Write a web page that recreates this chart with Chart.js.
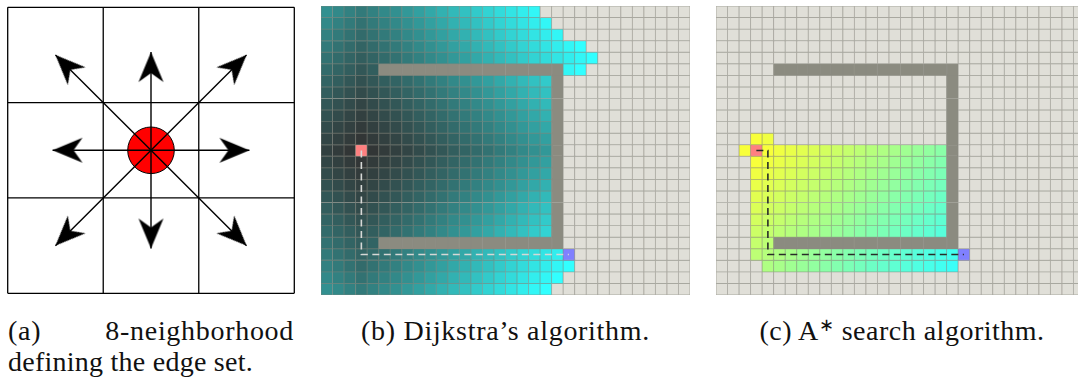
<!DOCTYPE html>
<html>
<head>
<meta charset="utf-8">
<script src="https://cdn.jsdelivr.net/npm/chart.js@4.4.1/dist/chart.umd.min.js"></script>
<style>
  html, body { margin: 0; padding: 0; background: #fff; overflow: hidden; width: 1078px; height: 381px; }
  canvas { position: absolute; }
  .cap { position: absolute; font-family: "Liberation Serif", "Times New Roman", serif; font-size: 28px;
         color: #111; white-space: nowrap; line-height: 28px; letter-spacing: 0.7px; }
  .cap sup { font-size: 18px; vertical-align: 9px; line-height: 0; }
</style>
</head>
<body>
<canvas id="nbr" width="302" height="301" style="left:0px;top:0px"></canvas>
<canvas id="dij" width="369" height="289" style="left:321px;top:6px"></canvas>
<canvas id="astar" width="369" height="289" style="left:716px;top:6px"></canvas>

<div class="cap" style="left:8px;top:317px;width:286px;display:flex;justify-content:space-between"><span>(a)</span><span>8-neighborhood</span></div>
<div class="cap" style="left:8px;top:348px;letter-spacing:0.25px">defining the edge set.</div>
<div class="cap" style="left:321px;top:317px;width:369px;text-align:center">(b) Dijkstra’s algorithm.</div>
<div class="cap" style="left:716px;top:317px;width:372px;text-align:center;letter-spacing:0.5px">(c) A<sup>∗</sup> search algorithm.</div>

<script>
// ---------- (a) 8-neighbourhood ----------
// arrow tips relative to the centre cell, in cell units
const arrowTipX = [1.03, 1, 0, -1, -1.03, -1, 0, 1];
const arrowTipY = [0, 1, 1.03, 1, 0, -1, -1.03, -1];
// cell boundaries of the 3x3 neighbourhood
const cellBounds = [-1.5, -0.5, 0.5, 1.5];

// ---------- (b)/(c) search grids ----------
// '.' unvisited, '#' obstacle, 'S' start, 'G' goal,
// otherwise the cost-to-come of a visited cell as a base-36 digit
const dijkstraRows = [
  "fedcdefghijklmnopqr.............",
  "edcbcdefghijklmnopqr............",
  "dcbabcdefghijklmnopqr...........",
  "cba9abcdefghijklmnopqrs.........",
  "ba989abcdefghijklmnopqrs........",
  "a9878################rs.........",
  "9876789abcdefghijklm#...........",
  "87656789abcdefghijkl#...........",
  "765456789abcdefghijk#...........",
  "6543456789abcdefghij#...........",
  "54323456789abcdefghi#...........",
  "432123456789abcdefgh#...........",
  "321S123456789abcdefg#...........",
  "432123456789abcdefgh#...........",
  "54323456789abcdefghi#...........",
  "6543456789abcdefghij#...........",
  "765456789abcdefghijk#...........",
  "87656789abcdefghijkl#...........",
  "9876789abcdefghijklm#...........",
  "a98789abcdefghijklmn#...........",
  "ba989################...........",
  "cba9abcdefghijklmnopqG..........",
  "dcbabcdefghijklmnopqrs..........",
  "edcbcdefghijklmnopqrs...........",
  "fedcdefghijklmnopqrs............"
];
const astarRows = [
  "................................",
  "................................",
  "................................",
  "................................",
  "................................",
  ".....################...........",
  "....................#...........",
  "....................#...........",
  "....................#...........",
  "....................#...........",
  "....................#...........",
  "...12...............#...........",
  "..1S123456789abcdefg#...........",
  "...123456789abcdefgh#...........",
  "...23456789abcdefghi#...........",
  "...3456789abcdefghij#...........",
  "...456789abcdefghijk#...........",
  "...56789abcdefghijkl#...........",
  "...6789abcdefghijklm#...........",
  "...789abcdefghijklmn#...........",
  "...89################...........",
  "...9abcdefghijklmnopqG..........",
  "....bcdefghijklmnopqr...........",
  "................................",
  "................................"
];
// resulting paths, as cell (column,row) corners
const dijkstraPathCols = [3, 3, 21];
const dijkstraPathRows = [12, 21, 21];
const astarPathCols = [3, 4, 4, 21];
const astarPathRows = [12, 12, 21, 21];

// ---------- colours ----------
const FREE = [224, 223, 216], WALL = [139, 139, 128], START = [255, 128, 128], GOAL = [128, 128, 255];
const LINE = [132, 132, 122];
const MAX_COST = 28;
const rgb = c => `rgb(${c.map(v => Math.round(v)).join(',')})`;
const mix = (a, b, t) => a.map((v, i) => v + (b[i] - v) * t);
const dijkstraRamp = g => { const t = Math.pow(Math.min(g / MAX_COST, 1), 1.25); return [50, 51 + 204 * t, 51 + 204 * t]; };
const astarRamp = g => { const t = Math.min(g / MAX_COST, 1); return [255 - 204 * t, 255, 51 + 204 * t]; };

function cellColour(ch, ramp) {
  if (ch === '.') return FREE;
  if (ch === '#') return WALL;
  if (ch === 'S') return START;
  if (ch === 'G') return GOAL;
  return ramp(parseInt(ch, 36));
}

function gridChart(id, rows, ramp, pathCols, pathRows, pathColour) {
  const nCols = 32, nRows = rows.length;
  const labels = Array.from({ length: nCols }, (_, i) => String(i));
  const datasets = rows.map((row, r) => {
    const cells = row.padEnd(nCols, '.').split('');
    const fills = cells.map(ch => rgb(cellColour(ch, ramp)));
    const borders = cells.map(ch => ch === '#' ? rgb(WALL) : rgb(mix(cellColour(ch, ramp), LINE, 0.6)));
    return {
      type: 'bar', data: cells.map(() => [r, r + 1]),
      backgroundColor: fills, borderColor: borders, borderWidth: 0.8, borderSkipped: false,
      grouped: false, barPercentage: 1, categoryPercentage: 1, xAxisID: 'x', yAxisID: 'y', order: 2
    };
  });
  datasets.push({
    type: 'line', data: pathCols.map((c, i) => ({ x: c + 0.5, y: pathRows[i] + 0.5 })),
    borderColor: pathColour, borderWidth: 1.6, borderDash: [7, 4.5], pointRadius: 0,
    fill: false, tension: 0, xAxisID: 'xp', yAxisID: 'y', order: 0
  });
  return new Chart(document.getElementById(id), {
    type: 'bar',
    data: { labels, datasets },
    options: {
      responsive: false, animation: false, events: [],
      layout: { padding: 0, autoPadding: false },
      plugins: { legend: { display: false }, tooltip: { enabled: false } },
      scales: {
        x: { type: 'category', display: false, offset: true },
        xp: { type: 'linear', display: false, min: 0, max: nCols, offset: false },
        y: { type: 'linear', display: false, min: 0, max: nRows, reverse: true }
      }
    }
  });
}

gridChart('dij', dijkstraRows, dijkstraRamp, dijkstraPathCols, dijkstraPathRows, 'rgb(214,216,214)');
gridChart('astar', astarRows, astarRamp, astarPathCols, astarPathRows, 'rgb(40,44,40)');

// ---------- (a) chart ----------
function arrowHead(len, half, notch) {
  const cv = document.createElement('canvas');
  cv.width = 2 * len + 4; cv.height = 2 * half + 4;
  const cx = cv.width / 2, cy = cv.height / 2, g = cv.getContext('2d');
  g.fillStyle = '#000';
  g.beginPath();
  g.moveTo(cx, cy);
  g.lineTo(cx - len, cy - half);
  g.lineTo(cx - len + notch, cy);
  g.lineTo(cx - len, cy + half);
  g.closePath();
  g.fill();
  return cv;
}
const head = arrowHead(30, 12.5, 9);

const nbrSets = [];
cellBounds.forEach(v => {
  nbrSets.push({ data: [{ x: cellBounds[0], y: v }, { x: cellBounds[3], y: v }] });
  nbrSets.push({ data: [{ x: v, y: cellBounds[0] }, { x: v, y: cellBounds[3] }] });
});
nbrSets.forEach(d => Object.assign(d, { showLine: true, borderColor: '#000', borderWidth: 1.3, pointRadius: 0, clip: 8, order: 10 }));

arrowTipX.forEach((tx, i) => {
  const ty = arrowTipY[i];
  nbrSets.push({
    data: [{ x: 0, y: 0 }, { x: tx, y: ty }],
    showLine: true, borderColor: '#000', borderWidth: 1.4,
    pointRadius: [0, 2], pointStyle: head, pointRotation: -Math.atan2(ty, tx) * 180 / Math.PI,
    clip: 8, order: 0
  });
});
nbrSets.push({
  data: [{ x: 0, y: 0 }], pointRadius: 23.3, pointBackgroundColor: '#ff0000',
  pointBorderColor: '#000', pointBorderWidth: 1, order: 5
});

new Chart(document.getElementById('nbr'), {
  type: 'scatter',
  data: { datasets: nbrSets },
  options: {
    responsive: false, animation: false, events: [],
    layout: { padding: { left: 7.7, right: 7.7, top: 7.3, bottom: 7.7 }, autoPadding: false },
    plugins: { legend: { display: false }, tooltip: { enabled: false } },
    scales: {
      x: { type: 'linear', display: false, min: -1.5, max: 1.5 },
      y: { type: 'linear', display: false, min: -1.5, max: 1.5 }
    }
  }
});
</script>
</body>
</html>
